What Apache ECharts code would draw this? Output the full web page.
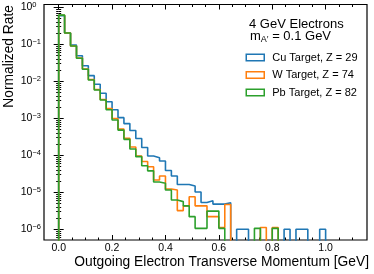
<!DOCTYPE html>
<html>
<head>
<meta charset="utf-8">
<script src="https://cdn.jsdelivr.net/npm/echarts@6.0.0/dist/echarts.min.js"></script>
<style>
html,body{margin:0;padding:0;background:#ffffff;}
#chart{width:374px;height:274px;}
</style>
</head>
<body>
<div id="chart"></div>
<script>
// ---- data ----
const binEdges = [0.0000, 0.0222, 0.0444, 0.0667, 0.0889, 0.1111, 0.1333, 0.1556, 0.1778, 0.2000,
  0.2222, 0.2444, 0.2667, 0.2889, 0.3111, 0.3333, 0.3556, 0.3778, 0.4000, 0.4222,
  0.4444, 0.4667, 0.4889, 0.5111, 0.5333, 0.5556, 0.5778, 0.6000, 0.6222, 0.6444,
  0.6667, 0.6889, 0.7111, 0.7333, 0.7556, 0.7778, 0.8000, 0.8222, 0.8444, 0.8667,
  0.8889, 0.9111, 0.9333, 0.9556, 0.9778, 1.0000];

const cuValues = [0.595, 0.202, 0.0957, 0.0492, 0.0264, 0.0142, 0.0083, 0.00474, 0.00281, 0.00171,
  0.00104, 7.2e-4, 4.7e-4, 2.84e-4, 1.62e-4, 9.6e-5, 8.6e-5, 7.0e-5, 3.9e-5, 2.76e-5,
  1.63e-5, 1.63e-5, 1.48e-5, 1.02e-5, 5.3e-6, 5.9e-6, 4.8e-6, 4.8e-6, 5.2e-6, 0,
  1.0e-6, 1.0e-6, 0, 0, 0, 0, 0, 0, 1.0e-6, 0,
  1.0e-6, 1.0e-6, 0, 0, 1.0e-6];

const wValues = [0.612, 0.202, 0.090, 0.0426, 0.0215, 0.0112, 0.0060, 0.00322, 0.00184, 9.9e-4,
  5.1e-4, 2.88e-4, 1.68e-4, 9.6e-5, 6.8e-5, 4.9e-5, 2.15e-5, 2.76e-5, 1.23e-5, 1.15e-5,
  3.2e-6, 4.3e-6, 7.6e-6, 4.3e-6, 4.3e-6, 2.2e-6, 2.2e-6, 1.12e-6, 4.7e-6, 0,
  0, 0, 0, 0, 1.12e-6, 0, 1.12e-6, 0, 0, 0,
  0, 0, 0, 0, 0];

const pbValues = [0.615, 0.202, 0.090, 0.0418, 0.0211, 0.0108, 0.0058, 0.00312, 0.0017, 9.0e-4,
  4.8e-4, 2.7e-4, 1.48e-4, 9.2e-5, 5.2e-5, 3.8e-5, 1.9e-5, 1.75e-5, 1.15e-5, 6.2e-6,
  5.6e-6, 4.3e-6, 2.2e-6, 1.06e-6, 1.06e-6, 3.1e-6, 3.1e-6, 1.06e-6, 0, 0,
  0, 0, 0, 1.06e-6, 0, 0, 1.06e-6, 0, 0, 0,
  0, 0, 0, 0, 0];

const seriesNames = ['Cu Target, Z = 29', 'W Target, Z = 74', 'Pb Target, Z = 82'];
const xMajorTicks = [0.0, 0.2, 0.4, 0.6, 0.8, 1.0];
const xMinorTicks = [0.05, 0.1, 0.15, 0.25, 0.3, 0.35, 0.45, 0.5, 0.55, 0.65, 0.7, 0.75, 0.85, 0.9, 0.95, 1.05, 1.1];
const yMajorTicks = [1e-6, 1e-5, 1e-4, 1e-3, 1e-2, 1e-1, 1];
const yMinorMultipliers = [2, 3, 4, 5, 6, 7, 8, 9];
const headingLine1 = '4 GeV Electrons';
const xTitle = 'Outgoing Electron Transverse Momentum [GeV]';
const yTitle = 'Normalized Rate';

// ---- styling ----
const FONT = '"Liberation Sans", Arial, Helvetica, sans-serif';
const COLORS = ['#1f77b4', '#ff7f0e', '#2ca02c'];
const X_MIN = -0.055, X_MAX = 1.155;
const Y_MIN = 5.14e-7, Y_MAX = 1.19;
const FLOOR = 1e-9; // empty bins drop below the axis (clipped), like matplotlib step hist

const yMinorTicks = [];
for (const d of [1e-7, 1e-6, 1e-5, 1e-4, 1e-3, 1e-2, 1e-1]) {
  for (const m of yMinorMultipliers) {
    const v = m * d;
    if (v > Y_MIN && v < Y_MAX) yMinorTicks.push(v);
  }
}

function stepPoints(vals) {
  const pts = [[binEdges[0], FLOOR]];
  vals.forEach((v, i) => {
    const y = v > 0 ? v : FLOOR;
    pts.push([binEdges[i], y]);
    pts.push([binEdges[i + 1], y]);
  });
  pts.push([binEdges[binEdges.length - 1], FLOOR]);
  return pts;
}

const gridRect = {left: 44, right: 7, top: 4.5, bottom: 34};

function xAxisDef(gridIndex, position, ticks, len, withLabels) {
  return {
    type: 'value', gridIndex, position, min: X_MIN, max: X_MAX,
    axisLine: {show: false}, splitLine: {show: false},
    axisTick: {show: true, inside: true, length: len, customValues: ticks, lineStyle: {color: '#000', width: 1}},
    axisLabel: withLabels ? {
      show: true, customValues: ticks, margin: 3, color: '#000', fontFamily: FONT, fontSize: 10.5,
      formatter: v => Number(v).toFixed(1)
    } : {show: false}
  };
}
function yAxisDef(gridIndex, position, ticks, len, withLabels) {
  return {
    type: 'log', logBase: 10, gridIndex, position, min: Y_MIN, max: Y_MAX,
    axisLine: {show: false}, splitLine: {show: false}, minorTick: {show: false},
    axisTick: {show: true, inside: true, length: len, customValues: ticks, lineStyle: {color: '#000', width: 1}},
    axisLabel: withLabels ? {
      show: true, customValues: ticks, margin: 3, color: '#000', fontFamily: FONT,
      formatter: v => {
        const e = Math.round(Math.log10(v));
        if (e === 0) return '{b|10}{z|0}';
        return '{b|10}{e|' + (e < 0 ? '\u2212' : '') + Math.abs(e) + '}';
      },
      rich: {
        b: {fontSize: 10.5, fontFamily: FONT, color: '#000'},
        e: {fontSize: 7.5, fontFamily: FONT, color: '#000', padding: [0, 0, 5, 0]},
        z: {fontSize: 7.5, fontFamily: FONT, color: '#000', padding: [0, 4.5, 5, 0]}
      }
    } : {show: false}
  };
}

const valueSets = [cuValues, wValues, pbValues];

const option = {
  animation: false,
  backgroundColor: '#ffffff',
  textStyle: {fontFamily: FONT},
  grid: [
    Object.assign({show: true, borderColor: '#000', borderWidth: 1.2, backgroundColor: 'rgba(0,0,0,0)'}, gridRect),
    Object.assign({show: false}, gridRect)
  ],
  xAxis: [
    xAxisDef(0, 'bottom', xMajorTicks, 5, true),
    xAxisDef(0, 'top', xMajorTicks, 5, false),
    xAxisDef(1, 'bottom', xMinorTicks, 2.5, false),
    xAxisDef(1, 'top', xMinorTicks, 2.5, false)
  ],
  yAxis: [
    yAxisDef(0, 'left', yMajorTicks, 5, true),
    yAxisDef(0, 'right', yMajorTicks, 5, false),
    yAxisDef(1, 'left', yMinorTicks, 2.5, false),
    yAxisDef(1, 'right', yMinorTicks, 2.5, false)
  ],
  legend: {
    orient: 'vertical', left: 240.5, top: 46.5,
    itemWidth: 18, itemHeight: 6.5, itemGap: 5.5,
    icon: 'rect', selectedMode: false,
    textStyle: {fontSize: 11, color: '#000', fontFamily: FONT, lineHeight: 12, padding: [0, 0, 0, 3]},
    data: seriesNames.map((n, i) => ({
      name: n,
      itemStyle: {color: 'rgba(0,0,0,0)', borderColor: COLORS[i], borderWidth: 1.5}
    }))
  },
  graphic: [
    {type: 'text', x: 369, y: 262, silent: true,
      style: {text: xTitle, align: 'right', verticalAlign: 'middle', fill: '#000', font: '13.8px ' + FONT}},
    {type: 'text', x: 9.5, y: 5, rotation: Math.PI / 2, silent: true,
      style: {text: yTitle, align: 'right', verticalAlign: 'middle', fill: '#000', font: '13.8px ' + FONT}},
    {type: 'text', x: 249, y: 24, silent: true,
      style: {text: headingLine1, align: 'left', verticalAlign: 'middle', fill: '#000', font: '13px ' + FONT}},
    {type: 'text', x: 250, y: 36.5, silent: true,
      style: {
        text: '{m|m}{s|A\u2032}{n| = 0.1 GeV}', align: 'left', verticalAlign: 'middle', fill: '#000',
        font: '13px ' + FONT,
        rich: {
          m: {fontSize: 13, fontFamily: FONT, fill: '#000'},
          s: {fontSize: 9, fontFamily: FONT, fill: '#000', padding: [7, 0, 0, 0]},
          n: {fontSize: 13, fontFamily: FONT, fill: '#000'}
        }
      }}
  ],
  series: seriesNames.map((n, i) => ({
    name: n, type: 'line', xAxisIndex: 0, yAxisIndex: 0,
    data: stepPoints(valueSets[i]),
    symbol: 'none', showSymbol: false, clip: true, silent: true, z: 3 + i,
    lineStyle: {color: COLORS[i], width: 1.6},
    itemStyle: {color: COLORS[i]},
    emphasis: {disabled: true}
  }))
};

const chart = echarts.init(document.getElementById('chart'), null, {renderer: 'canvas', width: 374, height: 274});
chart.setOption(option);
</script>
</body>
</html>
